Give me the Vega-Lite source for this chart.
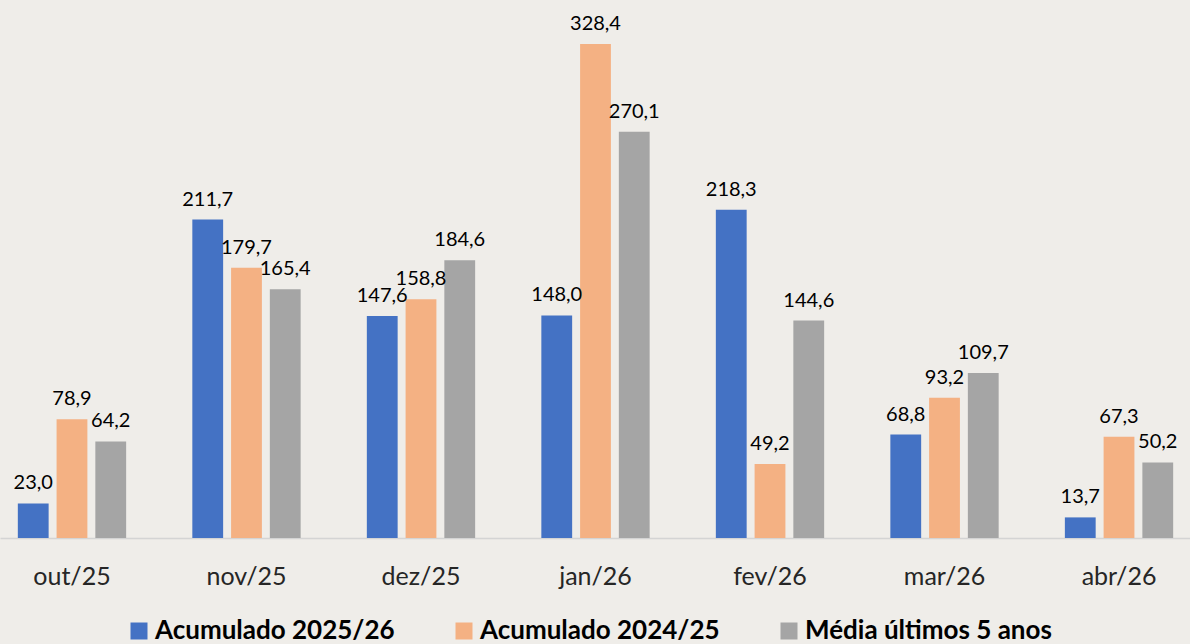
{
  "$schema": "https://vega.github.io/schema/vega-lite/v6.json",
  "autosize": "none",
  "padding": {"left": 0, "top": 0, "right": 0, "bottom": 106},
  "width": 1191,
  "height": 538,
  "background": "#efede9",
  "config": {
    "view": {"stroke": null},
    "locale": {"number": {"decimal": ",", "thousands": ".", "grouping": [3], "currency": ["R$", ""]}},
    "font": "Lato"
  },
  "data": {
    "values": [
      {"mes": "out/25", "serie": "Acumulado 2025/26", "valor": 23.0},
      {"mes": "out/25", "serie": "Acumulado 2024/25", "valor": 78.9},
      {"mes": "out/25", "serie": "Média últimos 5 anos", "valor": 64.2},
      {"mes": "nov/25", "serie": "Acumulado 2025/26", "valor": 211.7},
      {"mes": "nov/25", "serie": "Acumulado 2024/25", "valor": 179.7},
      {"mes": "nov/25", "serie": "Média últimos 5 anos", "valor": 165.4},
      {"mes": "dez/25", "serie": "Acumulado 2025/26", "valor": 147.6},
      {"mes": "dez/25", "serie": "Acumulado 2024/25", "valor": 158.8},
      {"mes": "dez/25", "serie": "Média últimos 5 anos", "valor": 184.6},
      {"mes": "jan/26", "serie": "Acumulado 2025/26", "valor": 148.0},
      {"mes": "jan/26", "serie": "Acumulado 2024/25", "valor": 328.4},
      {"mes": "jan/26", "serie": "Média últimos 5 anos", "valor": 270.1},
      {"mes": "fev/26", "serie": "Acumulado 2025/26", "valor": 218.3},
      {"mes": "fev/26", "serie": "Acumulado 2024/25", "valor": 49.2},
      {"mes": "fev/26", "serie": "Média últimos 5 anos", "valor": 144.6},
      {"mes": "mar/26", "serie": "Acumulado 2025/26", "valor": 68.8},
      {"mes": "mar/26", "serie": "Acumulado 2024/25", "valor": 93.2},
      {"mes": "mar/26", "serie": "Média últimos 5 anos", "valor": 109.7},
      {"mes": "abr/26", "serie": "Acumulado 2025/26", "valor": 13.7},
      {"mes": "abr/26", "serie": "Acumulado 2024/25", "valor": 67.3},
      {"mes": "abr/26", "serie": "Média últimos 5 anos", "valor": 50.2}
    ]
  },
  "encoding": {
    "x": {
      "field": "mes",
      "type": "nominal",
      "sort": ["out/25", "nov/25", "dez/25", "jan/26", "fev/26", "mar/26", "abr/26"],
      "scale": {"paddingInner": 0.175, "paddingOuter": 0},
      "axis": {
        "title": null,
        "labelAngle": 0,
        "labelFontSize": 25,
        "labelColor": "#262626",
        "labelPadding": 26,
        "ticks": false,
        "domainColor": "#d4d4d4",
        "domainWidth": 1.5,
        "grid": false
      }
    },
    "xOffset": {
      "field": "serie",
      "type": "nominal",
      "sort": ["Acumulado 2025/26", "Acumulado 2024/25", "Média últimos 5 anos"],
      "scale": {"paddingInner": 0.205, "paddingOuter": 0.46}
    },
    "y": {
      "field": "valor",
      "type": "quantitative",
      "scale": {"domain": [0, 357.7], "nice": false, "zero": true},
      "axis": null
    }
  },
  "layer": [
    {
      "mark": {"type": "bar"},
      "encoding": {
        "color": {
          "field": "serie",
          "type": "nominal",
          "sort": ["Acumulado 2025/26", "Acumulado 2024/25", "Média últimos 5 anos"],
          "scale": {
            "domain": ["Acumulado 2025/26", "Acumulado 2024/25", "Média últimos 5 anos"],
            "range": ["#4472C4", "#F4B183", "#A5A5A5"]
          },
          "legend": {
            "title": null,
            "orient": "none",
            "direction": "horizontal",
            "legendX": 126,
            "legendY": 618,
            "symbolType": "square",
            "symbolSize": 289,
            "symbolStrokeWidth": 0,
            "labelFontSize": 26,
            "labelFontWeight": "bold",
            "labelColor": "#000000",
            "labelOffset": 3,
            "labelLimit": 400,
            "columnPadding": 56
          }
        }
      }
    },
    {
      "mark": {"type": "text", "baseline": "alphabetic", "dy": -14, "fontSize": 20, "color": "#000000"},
      "encoding": {
        "text": {"field": "valor", "type": "quantitative", "format": ".1f"}
      }
    }
  ]
}
